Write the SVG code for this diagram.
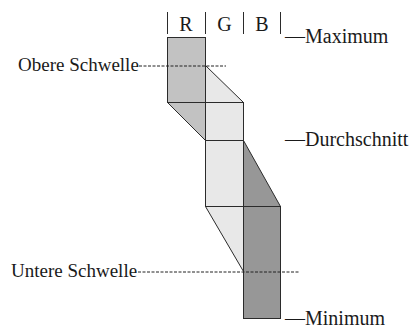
<svg xmlns="http://www.w3.org/2000/svg" width="412" height="329" viewBox="0 0 412 329">
  <style>
    .t { font-family: "Liberation Serif", "Times New Roman", serif; fill: #1a1a1a; }
    .l { font-size: 19px; }
    .r { font-size: 20px; }
    .h { font-size: 20px; text-anchor: middle; }
    .s { stroke: #2b2b2b; stroke-width: 1; stroke-linejoin: miter; }
    .R { fill: #c2c2c2; }
    .G { fill: #e8e8e8; }
    .B { fill: #979797; }
    .bar { stroke: #2b2b2b; stroke-width: 1; }
    .dash { stroke: #222; stroke-width: 1; stroke-dasharray: 3 1.5; fill: none; }
  </style>

  <g id="header">
    <line class="bar" x1="167.5" y1="12" x2="167.5" y2="34"/>
    <line class="bar" x1="205.5" y1="12" x2="205.5" y2="34"/>
    <line class="bar" x1="243.5" y1="12" x2="243.5" y2="34"/>
    <line class="bar" x1="280.5" y1="12" x2="280.5" y2="34"/>
    <text class="t h" x="186" y="31">R</text>
    <text class="t h" x="224.5" y="31">G</text>
    <text class="t h" x="262" y="31">B</text>
  </g>

  <g id="col-R">
    <rect class="R s" x="167.5" y="37.5" width="38" height="65"/>
    <polygon class="R s" points="167.5,102.5 205.5,102.5 205.5,140.5"/>
  </g>

  <g id="col-G">
    <polygon class="G s" points="205.5,65.5 243.5,102.5 205.5,102.5"/>
    <rect class="G s" x="205.5" y="102.5" width="38" height="38"/>
    <rect class="G s" x="205.5" y="140.5" width="38" height="66"/>
    <polygon class="G s" points="205.5,206.5 243.5,206.5 243.5,271.5"/>
  </g>

  <g id="col-B">
    <polygon class="B s" points="243.5,140.5 280.5,206.5 243.5,206.5"/>
    <rect class="B s" x="243.5" y="206.5" width="37" height="112"/>
  </g>

  <g id="connectors">
    <line class="dash" x1="139" y1="66" x2="226" y2="66"/>
    <line class="dash" x1="138" y1="272" x2="300" y2="272"/>
  </g>

  <g id="label-obere">
    <text class="t l" x="18" y="71">Obere Schwelle</text>
  </g>
  <g id="label-untere">
    <text class="t l" x="11" y="277">Untere Schwelle</text>
  </g>
  <g id="label-maximum">
    <text class="t r" x="285" y="43">—Maximum</text>
  </g>
  <g id="label-durchschnitt">
    <text class="t r" x="285" y="146">—Durchschnitt</text>
  </g>
  <g id="label-minimum">
    <text class="t r" x="285" y="325">—Minimum</text>
  </g>
</svg>
